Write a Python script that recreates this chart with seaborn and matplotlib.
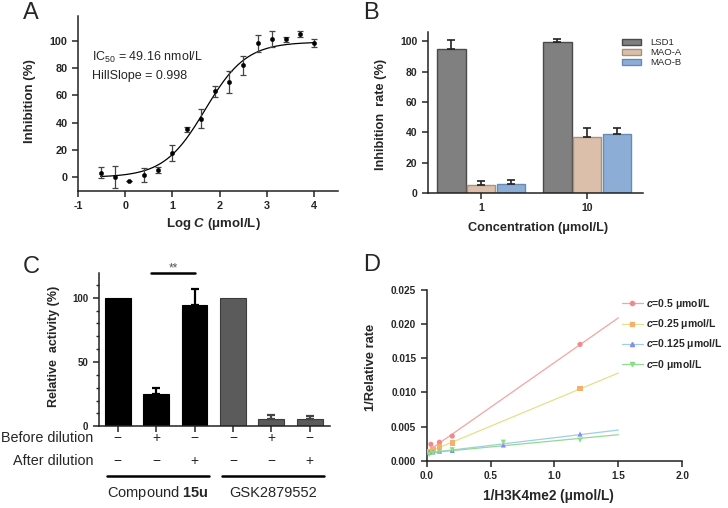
import numpy as np
import pandas as pd
import seaborn as sns
import matplotlib.pyplot as plt
from matplotlib.lines import Line2D
from matplotlib.ticker import MultipleLocator

# ---- A: dose-response ----
log_c = [-0.52, -0.22, 0.08, 0.39, 0.69, 1.0, 1.3, 1.6, 1.9, 2.2, 2.5, 2.8, 3.1, 3.4, 3.7, 4.0]
inhibition = [3.5, 0.5, -2.5, 1.5, 5.5, 18, 35, 43, 63, 70, 82, 98, 101, 101, 105, 98]
inhibition_err = [4, 8, 0, 5, 2, 6, 2, 7, 4, 8, 7, 6, 6, 2, 2, 3]
ic50_nm = 49.16
hill_slope = 0.998
fit_bottom = 0.0
fit_top = 99.0

# ---- B: selectivity ----
concentrations = ["1", "10"]
enzymes = ["LSD1", "MAO-A", "MAO-B"]
lsd1_rate = [95, 99.5]
maoa_rate = [5, 37]
maob_rate = [6, 39]
lsd1_err = [6, 2]
maoa_err = [3, 6]
maob_err = [2.5, 3.5]

# ---- C: dilution assay ----
activity = [100, 25, 94, 100, 6, 5.5]
activity_err = [0, 5, 13, 0, 3, 2.5]
before_dilution = ["\u2212", "+", "\u2212", "\u2212", "+", "\u2212"]
after_dilution = ["\u2212", "\u2212", "+", "\u2212", "\u2212", "+"]
compounds = ["Compound $\\mathbf{15u}$", "GSK2879552"]

# ---- D: Lineweaver-Burk ----
d_labels = ["$c$=0.5 \u03bcmol/L", "$c$=0.25 \u03bcmol/L", "$c$=0.125 \u03bcmol/L", "$c$=0 \u03bcmol/L"]
x_05 = [0.02, 0.033, 0.05, 0.1, 0.2, 1.2]
y_05 = [0.0012, 0.0024, 0.0017, 0.0027, 0.0036, 0.0170]
x_025 = [0.02, 0.033, 0.05, 0.1, 0.2, 1.2]
y_025 = [0.0014, 0.0013, 0.0016, 0.0020, 0.0026, 0.0105]
x_0125 = [0.02, 0.05, 0.1, 0.2, 0.6, 1.2]
y_0125 = [0.0012, 0.0013, 0.0014, 0.0015, 0.0023, 0.0039]
x_0 = [0.02, 0.05, 0.1, 0.2, 0.6, 1.2]
y_0 = [0.0009, 0.0011, 0.0013, 0.0016, 0.0027, 0.0030]

sns.set_style("ticks")
plt.rcParams["font.family"] = ["Liberation Sans", "DejaVu Sans"]
plt.rcParams["mathtext.fontset"] = "custom"
plt.rcParams["mathtext.rm"] = "Liberation Sans"
plt.rcParams["mathtext.it"] = "Liberation Sans:italic:bold"
plt.rcParams["mathtext.bf"] = "Liberation Sans:bold"
plt.rcParams["axes.unicode_minus"] = False
plt.rcParams["axes.linewidth"] = 1.1
plt.rcParams["axes.edgecolor"] = "#222222"
plt.rcParams["xtick.major.size"] = 4
plt.rcParams["ytick.major.size"] = 4
plt.rcParams["xtick.major.width"] = 1.1
plt.rcParams["ytick.major.width"] = 1.1

fig = plt.figure(figsize=(7.28, 5.08), dpi=100)


def bold_ticks(ax, size):
    for lab in ax.get_xticklabels() + ax.get_yticklabels():
        lab.set_fontweight("bold")
        lab.set_fontsize(size)


# ================= A =================
axA = fig.add_axes([0.1071, 0.624, 0.357, 0.3445])
xs = np.linspace(log_c[0], log_c[-1], 300)
curve = fit_bottom + (fit_top - fit_bottom) / (1 + 10 ** ((np.log10(ic50_nm) - xs) * hill_slope))
sns.lineplot(x=xs, y=curve, color="black", lw=0.9, ax=axA)
axA.errorbar(log_c, inhibition, yerr=inhibition_err, fmt="none", ecolor="#444444",
             elinewidth=0.9, capsize=2, capthick=0.9)
sns.scatterplot(x=log_c, y=inhibition, color="black", s=10, edgecolor="black", ax=axA, zorder=3)
axA.set_xlim(-1, 4.5)
axA.set_ylim(-10, 118)
axA.set_xticks(range(-1, 5))
axA.set_yticks(range(0, 101, 20))
bold_ticks(axA, 7.8)
axA.set_xlabel("Log $C$ (\u03bcmol/L)", fontweight="bold", fontsize=9.5, va="center")
axA.set_ylabel("Inhibition (%)", fontweight="bold", fontsize=9.5, va="center")
axA.xaxis.set_label_coords(0.52, -0.19)
axA.yaxis.set_label_coords(-0.185, 0.514)
axA.text(-0.70, 88, "IC$_{50}$ = 49.16 nmol/L", fontsize=9, va="center")
axA.text(-0.70, 74, "HillSlope = 0.998", fontsize=9, va="center")
sns.despine(ax=axA)

# ================= B =================
axB = fig.add_axes([0.5875, 0.620, 0.2957, 0.317])
dfB = pd.DataFrame({
    "conc": concentrations * 3,
    "enzyme": [e for e in enzymes for _ in concentrations],
    "rate": lsd1_rate + maoa_rate + maob_rate,
})
b_fill = ["#808080", "#dcbfaa", "#8badd6"]
b_edge = ["#4a4a4a", "#a8927f", "#6a8ab3"]
sns.barplot(data=dfB, x="conc", y="rate", hue="enzyme", palette=b_fill,
            width=0.845, gap=0.06, errorbar=None, ax=axB, saturation=1)
bar_conts = list(axB.containers)
errs = [lsd1_err, maoa_err, maob_err]
for cont, ec, err in zip(bar_conts, b_edge, errs):
    xc, yc = [], []
    for bar in cont:
        bar.set_edgecolor(ec)
        bar.set_linewidth(1.0)
        xc.append(bar.get_x() + bar.get_width() / 2)
        yc.append(bar.get_height())
    axB.errorbar(xc, yc, yerr=[np.zeros(len(err)), err], fmt="none", ecolor="#222222",
                 elinewidth=1.2, capsize=3, capthick=1.2, zorder=1)
axB.set_xlim(-0.506, 1.525)
axB.set_ylim(0, 106)
axB.set_yticks(range(0, 101, 20))
bold_ticks(axB, 7.5)
axB.set_xlabel("Concentration (\u03bcmol/L)", fontweight="bold", fontsize=9.2, va="center")
axB.set_ylabel("Inhibition  rate (%)", fontweight="bold", fontsize=9.2, va="center")
axB.xaxis.set_label_coords(0.512, -0.214)
axB.yaxis.set_label_coords(-0.215, 0.49)
handles = [c.patches[0] for c in bar_conts]
if axB.get_legend() is not None:
    axB.get_legend().remove()
axB.legend(handles, enzymes, loc="upper left", bbox_to_anchor=(0.8544, 0.925),
           bbox_transform=fig.transFigure, frameon=False, fontsize=6.8,
           handlelength=2.0, handleheight=0.6, handletextpad=1.0,
           labelspacing=0.12, borderaxespad=0, borderpad=0)
sns.despine(ax=axB)

# ================= C =================
axC = fig.add_axes([0.1356, 0.1608, 0.3177, 0.3013])
c_cat = [str(i) for i in range(len(activity))]
c_fill = ["#000000"] * 3 + ["#5b5b5b"] * 3
sns.barplot(x=c_cat, y=activity, hue=c_cat, palette=c_fill, legend=False,
            width=0.67, errorbar=None, ax=axC, saturation=1)
for i, bar in enumerate(axC.patches):
    bar.set_edgecolor("#000000" if i < 3 else "#3c3c3c")
    bar.set_linewidth(0.8)
c_ecol = ["#000000"] * 3 + ["#444444"] * 3
for i in range(len(activity)):
    if activity_err[i] > 0:
        axC.errorbar(i, activity[i], yerr=[[0], [activity_err[i]]], fmt="none",
                     ecolor=c_ecol[i], elinewidth=1.6, capsize=3, capthick=1.6, zorder=1)
axC.set_xlim(-0.5, 5.53)
axC.set_ylim(0, 119)
axC.set_xticks(range(len(activity)))
axC.set_xticklabels([])
axC.set_yticks([0, 50, 100])
axC.yaxis.set_minor_locator(MultipleLocator(10))
axC.tick_params(axis="y", which="minor", length=2.5, width=1.0)
bold_ticks(axC, 7)
axC.set_ylabel("Relative  activity (%)", fontweight="bold", fontsize=9, va="center")
axC.yaxis.set_label_coords(-0.193, 0.52)
axC.set_xlabel("")
trC = axC.get_xaxis_transform()
axC.text(-0.0246, -0.078, "Before dilution", transform=axC.transAxes, ha="right", va="center", fontsize=10.4)
axC.text(-0.0246, -0.225, "After dilution", transform=axC.transAxes, ha="right", va="center", fontsize=10.4)
for i in range(len(activity)):
    axC.text(i, -0.078, before_dilution[i], transform=trC, ha="center", va="center", fontsize=10)
    axC.text(i, -0.225, after_dilution[i], transform=trC, ha="center", va="center", fontsize=10)
for g, name in enumerate(compounds):
    lo, hi = 3 * g - 0.29, 3 * g + 2.38
    axC.plot([lo, hi], [-0.323, -0.323], transform=trC, color="black", lw=1.8, clip_on=False)
    axC.text((lo + hi) / 2, -0.435, name, transform=trC, ha="center", va="center", fontsize=10.5)
# significance bracket
axC.plot([0.87, 2.02], [119, 119], color="black", lw=1.8, clip_on=False)
axC.text(1.45, 123, "**", ha="center", va="center", fontsize=8.5, color="#555555")
sns.despine(ax=axC)

# ================= D =================
axD = fig.add_axes([0.5861, 0.0931, 0.3511, 0.3366])
d_x = [x_05, x_025, x_0125, x_0]
d_y = [y_05, y_025, y_0125, y_0]
line_cols = ["#f5a3a3", "#e5e08a", "#9dd0e2", "#93d993"]
mark_cols = ["#f08a8a", "#f7b06c", "#8a8af0", "#86e086"]
marks = ["o", "s", "^", "v"]
fit_range = np.array([0.0, 1.5])
for xv, yv, lc, mc, mk in zip(d_x, d_y, line_cols, mark_cols, marks):
    slope, icpt = np.polyfit(xv, yv, 1)
    sns.lineplot(x=fit_range, y=icpt + slope * fit_range, color=lc, lw=0.9, ax=axD)
    sns.scatterplot(x=xv, y=yv, color=mc, marker=mk, s=14, edgecolor="none", ax=axD, zorder=3)
axD.set_xlim(0, 2.0)
axD.set_ylim(0, 0.025)
axD.set_xticks(np.arange(0, 2.01, 0.5))
axD.set_yticks(np.arange(0, 0.0251, 0.005))
axD.set_xticklabels([f"{v:.1f}" for v in np.arange(0, 2.01, 0.5)])
axD.set_yticklabels([f"{v:.3f}" for v in np.arange(0, 0.0251, 0.005)])
bold_ticks(axD, 7.2)
axD.set_xlabel("1/H3K4me2 (\u03bcmol/L)", fontweight="bold", fontsize=9.8, va="center")
axD.set_ylabel("1/Relative rate", fontweight="bold", fontsize=9.3, va="center")
axD.xaxis.set_label_coords(0.478, -0.206)
axD.yaxis.set_label_coords(-0.218, 0.545)
d_handles = [Line2D([], [], color=lc, marker=mk, markerfacecolor=mc, markeredgecolor=mc,
                    markersize=3, lw=0.9) for lc, mc, mk in zip(line_cols, mark_cols, marks)]
axD.legend(d_handles, d_labels, loc="upper left", bbox_to_anchor=(0.8544, 0.4154),
           bbox_transform=fig.transFigure, frameon=False, handlelength=2.0,
           handletextpad=0.35, labelspacing=0.6, borderaxespad=0, borderpad=0,
           prop={"weight": "bold", "size": 7.5})
sns.despine(ax=axD)

# panel letters
for lx, ly, letter in [(0.031, 0.996, "A"), (0.499, 0.996, "B"), (0.031, 0.497, "C"), (0.499, 0.5, "D")]:
    fig.text(lx, ly, letter, fontsize=17, ha="left", va="top")

fig.savefig("out.png", dpi=100)
